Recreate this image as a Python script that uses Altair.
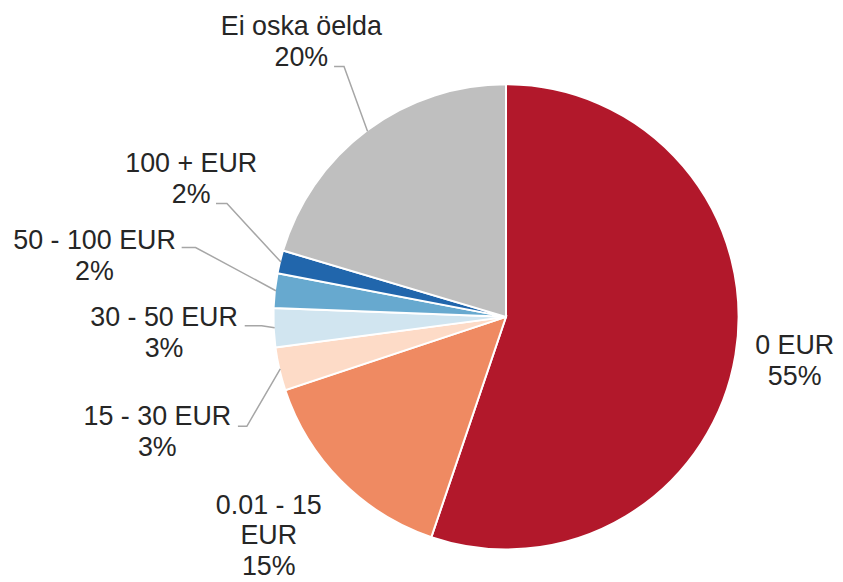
import math
import altair as alt
import pandas as pd

# ---- data ----
categories = ["0 EUR", "0.01 - 15 EUR", "15 - 30 EUR", "30 - 50 EUR",
              "50 - 100 EUR", "100 + EUR", "Ei oska öelda"]
values = [55.2, 14.7, 3.0, 2.7, 2.4, 1.6, 20.4]
pct_labels = ["55%", "15%", "3%", "3%", "2%", "2%", "20%"]
name_lines = ["0 EUR", "0.01 - 15\nEUR", "15 - 30 EUR", "30 - 50 EUR",
              "50 - 100 EUR", "100 + EUR", "Ei oska öelda"]
colors = ["#b2182b", "#ef8a62", "#fddbc7", "#d1e5f0",
          "#67a9cf", "#2166ac", "#bfbfbf"]

# ---- layout (style): anchor of each label's first line ----
CX, CY, R = 501, 309, 234
label_nudge_deg = [-3.5, 6.3, -3.1, 2.5, 4.0, 12.2, 1.5]
label_radius = [292, 305, 365, 344, 421, 352, 357]
# leader: index -> (elbow angle deg, elbow radius, horizontal length)
leaders = {2: (247.1, 283, 9), 3: (267.9, 246, 17), 4: (282.6, 320, 14),
           5: (292.1, 303, 11), 6: (327.1, 300, 10)}

total = sum(values)
cum = 0.0
mids = []
for v in values:
    mids.append((cum + v / 2) / total * 360.0)
    cum += v

df = pd.DataFrame({
    "idx": list(range(len(categories))),
    "category": categories,
    "value": values,
    "label": [f"{n}\n{p}" for n, p in zip(name_lines, pct_labels)],
    "ltheta": [math.radians(m + d) for m, d in zip(mids, label_nudge_deg)],
    "lradius": label_radius,
})


def polar(deg, r):
    a = math.radians(deg)
    return CX + r * math.sin(a), CY - r * math.cos(a)


rows = []
for i, (et, er, ln) in leaders.items():
    sx, sy = polar(mids[i], R - 1)
    ex, ey = polar(et, er)
    pts = [(sx, sy), (ex, ey), (ex - ln, ey)]
    for k, (x, y) in enumerate(pts):
        rows.append({"cat": categories[i], "pt": k, "x": x, "y": y})
ldf = pd.DataFrame(rows)

pie = alt.Chart(df).mark_arc(outerRadius=R, stroke="white", strokeWidth=2).encode(
    theta=alt.Theta("value:Q", stack=True),
    color=alt.Color("category:N", scale=alt.Scale(domain=categories, range=colors), legend=None),
    order=alt.Order("idx:Q", sort="ascending"),
    x=alt.value(CX),
    y=alt.value(CY),
)

lines = alt.Chart(ldf).mark_line(color="#a6a6a6", strokeWidth=1.5).encode(
    x=alt.X("x:Q", scale=None),
    y=alt.Y("y:Q", scale=None),
    detail="cat:N",
    order=alt.Order("pt:Q"),
)

text = alt.Chart(df).mark_text(
    lineBreak="\n", font="Liberation Sans", fontSize=27, lineHeight=31,
    color="#262626", align="center", baseline="middle",
).encode(
    theta=alt.Theta("ltheta:Q", scale=None, stack=False),
    radius=alt.Radius("lradius:Q", scale=None),
    text="label:N",
    x=alt.value(CX),
    y=alt.value(CY),
)

chart = alt.layer(pie, lines, text).properties(
    width=820, height=560, padding=0
).configure_view(strokeWidth=0)

chart.save("out.html", embed_options={"renderer": "svg", "actions": False})
